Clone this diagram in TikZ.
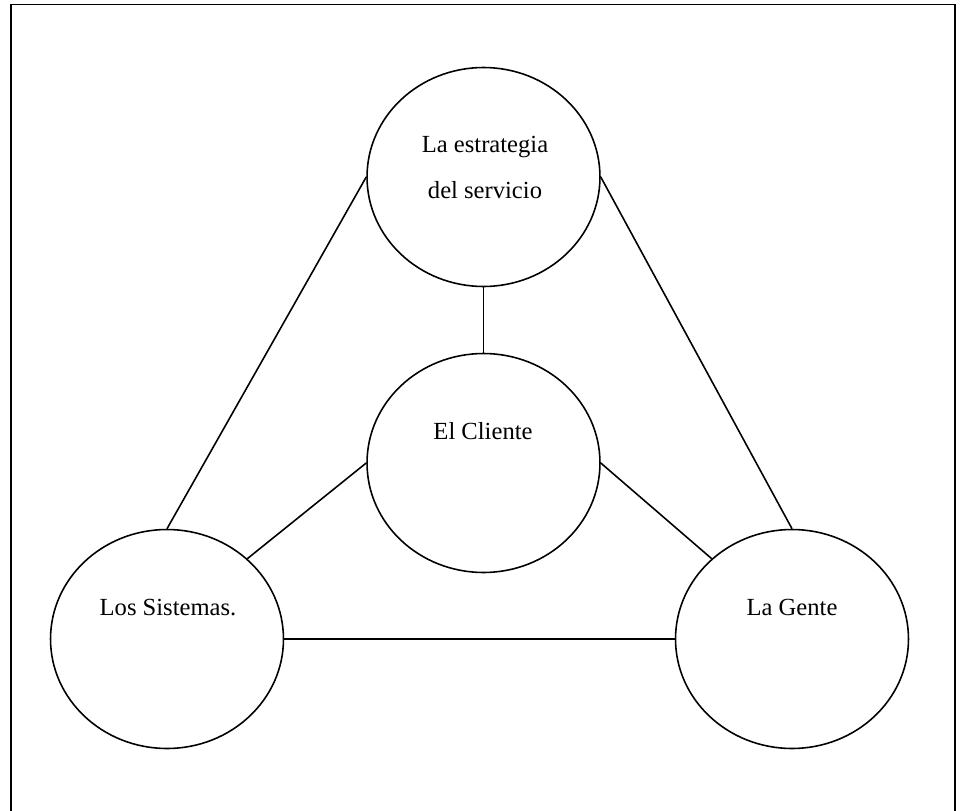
\documentclass[tikz,border=0pt]{standalone}
\usepackage{fontspec}
\setmainfont{Liberation Serif}
\usetikzlibrary{shapes.geometric}

\tikzset{
  ball/.style={draw,ellipse,line width=0.9pt,minimum width=4.66cm,minimum height=4.38cm,inner sep=0pt},
  txt/.style={anchor=base,font=\fontsize{14}{25}\selectfont,inner sep=0pt},
  link/.style={line width=0.9pt}
}

\begin{document}
\begin{tikzpicture}[x=0.02cm,y=-0.02cm]
\useasboundingbox (0,0) rectangle (960,811);
\draw[line width=1.1pt] (11,811) -- (11,4.5) -- (955,4.5) -- (955,811);
\node (est) [ball] at (483.5,177) {} ;
\node (cli) [ball] at (483.5,463) {} ;
\node (sis) [ball] at (167,639) {} ;
\node (gen) [ball] at (792,639) {} ;
\node (t1) [txt] at (485,153) {La estrategia} ;
\node (t2) [txt] at (485,198) {del servicio} ;
\node (t3) [txt] at (483,439) {El Cliente} ;
\node (t4) [txt] at (168,615) {Los Sistemas.} ;
\node (t5) [txt] at (792,615) {La Gente} ;
\draw[link] (est.south) to (cli.north) ;
\draw[link] (est.west) to (sis.north) ;
\draw[link] (est.east) to (gen.north) ;
\draw[link] (cli.west) to (sis.45) ;
\draw[link] (cli.east) to (gen.135) ;
\draw[link] (sis.east) to (gen.west) ;
\end{tikzpicture}
\end{document}
